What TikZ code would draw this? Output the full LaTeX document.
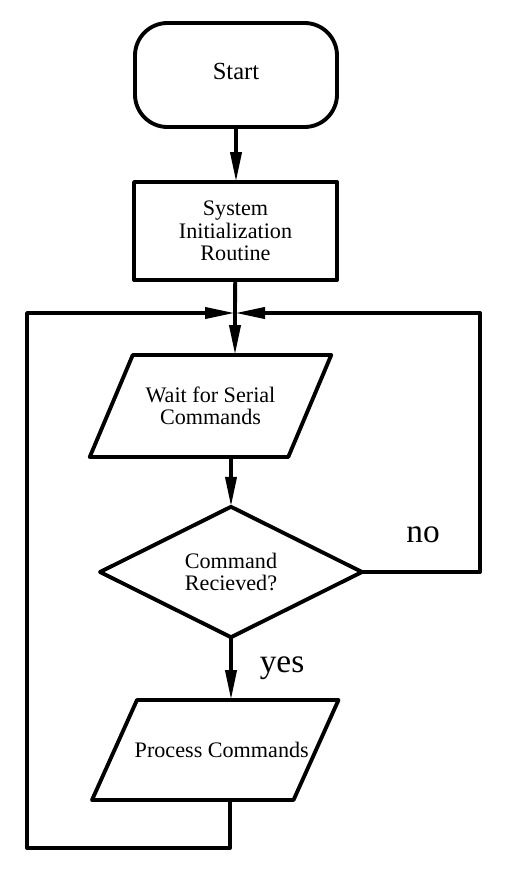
\documentclass[tikz,border=0pt]{standalone}
\usepackage{fontspec}
\setmainfont{Liberation Serif}
\usetikzlibrary{shapes.geometric,arrows.meta}

\tikzset{
  flow/.style={draw,line width=2.2pt,line join=round,outer sep=0pt,align=center,
    font=\fontsize{12.6}{12.8}\selectfont},
  startbox/.style={flow,rectangle,rounded corners=0.65cm,minimum width=4.04cm,
    minimum height=2.08cm,font=\fontsize{14}{15}\selectfont},
  procbox/.style={flow,rectangle,minimum width=4.06cm,minimum height=1.96cm},
  iobox/.style={flow,draw=none,rectangle,inner sep=0pt},
  askbox/.style={flow,diamond,minimum width=5.24cm,minimum height=2.6cm,inner sep=0pt},
  arr/.style={line width=2.2pt,line join=round,-{Triangle[length=0.6cm,width=0.22cm]}},
  wire/.style={line width=2.2pt,line join=round},
  tag/.style={font=\fontsize{19}{20}\selectfont}
}
% slanted outline round a named node
\newcommand{\ioframe}[2]{%
  \draw[wire] ([xshift=-#2]#1.south west) -- ([xshift=-#2]#1.south east)
    -- ([xshift=#2]#1.north east) -- ([xshift=#2]#1.north west) -- cycle;}

\begin{document}
\begin{tikzpicture}
  \useasboundingbox (0,0) rectangle (10.48,-17.52);

  \node[startbox] (start) at (4.72,-1.50) {\raisebox{0.14cm}{Start}};
  \node[procbox] (init) at (4.71,-4.62) {System\\Initialization\\Routine};
  \node[iobox,minimum width=3.97cm,minimum height=2.04cm] (wait) at (4.21,-8.12) {Wait for Serial\\Commands};
  \node[askbox] (decide) at (4.62,-11.44) {Command\\Recieved?};
  \node[iobox,minimum width=4.03cm,minimum height=2.0cm] (proc) at (4.305,-15.0) {\hspace*{0.26cm}Process Commands};
  \ioframe{wait}{0.43cm}
  \ioframe{proc}{0.45cm}

  \node[tag] (no) at (8.46,-10.70) {no};
  \node[tag] (yes) at (5.64,-13.36) {yes};

  \coordinate (join) at (4.70,-6.26);
  \coordinate (rgt) at (9.60,-6.26);
  \coordinate (lft) at (0.54,-16.96);
  \coordinate (bot) at (4.60,-16.96);

  \draw[arr] (start) -- (start |- init.north);
  \draw[wire] (init) -- (join);
  \draw[arr] (join) -- (join |- wait.north);
  \draw[arr] (decide.north |- wait.south) -- (decide.north);
  \draw[arr] (decide.south) -- (decide.south |- proc.north);

  % loop back
  \draw[arr] (decide.east) -| (rgt) -- (join);
  \draw[arr] (bot |- proc.south) |- (lft) |- (join);
\end{tikzpicture}
\end{document}
